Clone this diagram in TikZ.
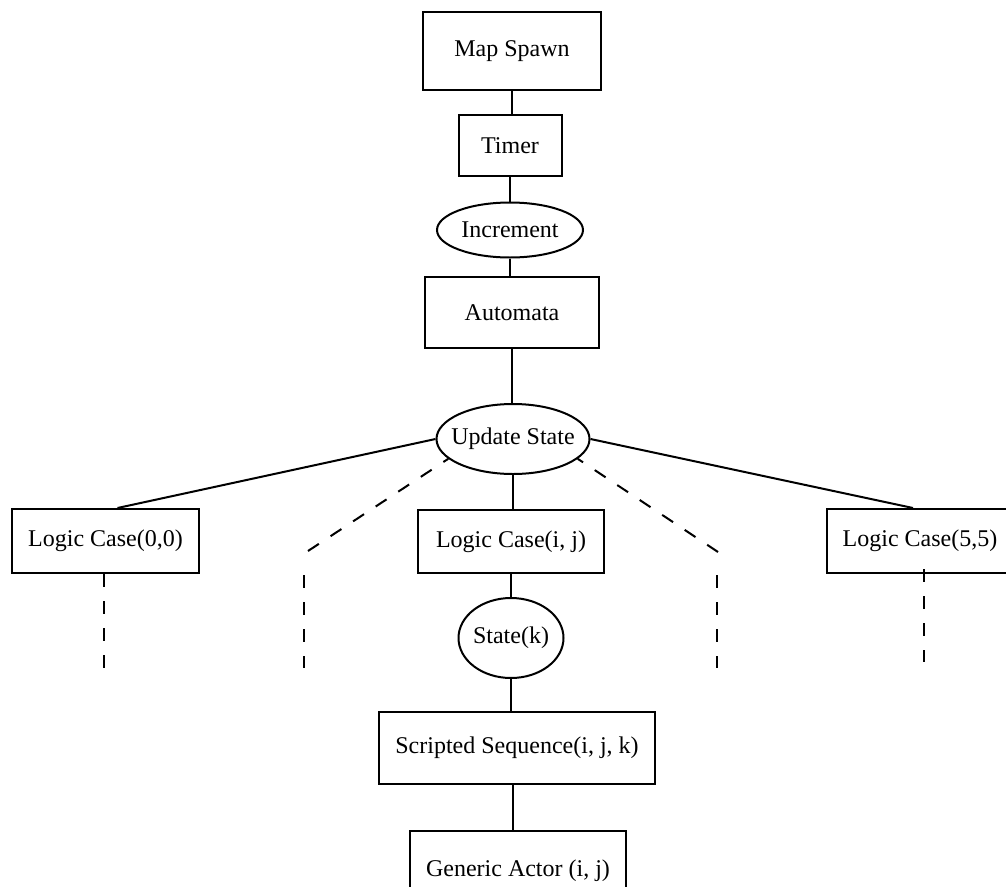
\documentclass[tikz,border=0pt]{standalone}
\usepackage{fontspec}
\setmainfont{Liberation Serif}
\usetikzlibrary{shapes.geometric}
\begin{document}
\begin{tikzpicture}
    [x=1pt,y=-1pt,
     blocco/.style={rectangle,draw,line width=2pt,inner sep=0pt},
     ovale/.style={ellipse,draw,line width=2pt,inner xsep=-15pt,inner ysep=0pt},
     linea/.style={line width=2pt},
     tratto/.style={line width=2pt,dash pattern=on 13pt off 14pt},
     every node/.style={font=\fontsize{24}{28}\selectfont}]
    \useasboundingbox (0,0) rectangle (1006,886);
    \clip (0,0) rectangle (1006,886);

    \node[blocco, minimum width=178pt, minimum height=78pt] (spawn) at (512,51) {Map Spawn};
    \node[blocco, minimum width=103pt, minimum height=61pt] (timer) at (510,145.5) {Timer};
    \node[ovale, minimum width=146pt, minimum height=55pt] (incr) at (510,230) {Increment};
    \node[blocco, minimum width=174pt, minimum height=71pt] (auto) at (512,312.5) {Automata};
    \node[ovale, minimum width=153pt, minimum height=70pt] (upd) at (513,439) {Update State};

    \node[blocco, minimum width=187pt, minimum height=64pt] (lc00) at (105.5,541) {Logic Case(0,0)};
    \node[blocco, minimum width=186pt, minimum height=63pt] (lcij) at (511,541.5) {Logic Case(i, j)};
    \node[blocco, minimum width=186pt, minimum height=64pt] (lc55) at (920,541) {Logic Case(5,5)};

    \node[ovale, minimum width=105pt, minimum height=80pt] (stk) at (511,638) {State(k)};
    \node[blocco, minimum width=276pt, minimum height=72pt] (seq) at (517,748) {Scripted Sequence(i, j, k)};
    \node[blocco, minimum width=216pt, minimum height=80pt] (actor) at (518,871) {Generic Actor (i, j)};

    % tronco centrale
    \draw[linea] (spawn.south) -- (spawn.south |- timer.north);
    \draw[linea] (timer.south) -- (timer.south |- incr.north);
    \draw[linea] (incr.south) -- (incr.south |- auto.north);
    \draw[linea] (auto.south) -- (auto.south |- upd.north);
    \draw[linea] (upd.south) -- (upd.south |- lcij.north);
    \draw[linea] (lcij.south) -- (lcij.south |- stk.north);
    \draw[linea] (stk.south) -- (stk.south |- seq.north);
    \draw[linea] ([xshift=-4pt]seq.south) -- ([xshift=-4pt]seq.south |- actor.north);

    % rami laterali
    \draw[linea] (upd.west) -- ([xshift=12pt]lc00.north);
    \draw[linea] (upd.east) -- ([xshift=-7pt]lc55.north);

    \coordinate (sx1) at (308,551);
    \coordinate (sx2) at (304,575);
    \coordinate (sx3) at (304,668);
    \coordinate (dx1) at (718,552);
    \coordinate (dx2) at (717,575);
    \coordinate (dx3) at (717,668);
    \coordinate (a00) at (104,668);
    \coordinate (a55) at (924,662);

    \draw[tratto] (sx1) -- (upd.197);
    \draw[tratto] (dx1) -- (upd.-17);
    \draw[tratto] (sx2) -- (sx3);
    \draw[tratto] (dx2) -- (dx3);
    \draw[tratto] ([xshift=-1.5pt]lc00.south) -- (a00);
    \draw[tratto] ([yshift=5pt]lc55.south -| a55) -- (a55);

\end{tikzpicture}
\end{document}
